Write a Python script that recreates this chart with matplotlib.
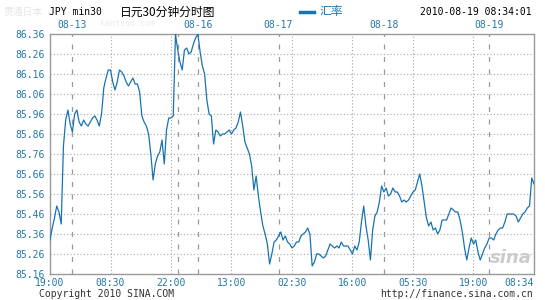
import matplotlib
matplotlib.use('Agg')
import matplotlib.pyplot as plt

# JPY 30-minute bars, one value per bar
rate = [85.33, 85.39, 85.44, 85.50, 85.47, 85.41, 85.80, 85.93, 85.98, 85.91,
        85.87, 85.96, 85.98, 85.92, 85.90, 85.93, 85.91, 85.90, 85.92, 85.94,
        85.95, 85.93, 85.90, 85.96, 86.09, 86.14, 86.18, 86.18, 86.12, 86.08,
        86.12, 86.18, 86.17, 86.15, 86.12, 86.10, 86.12, 86.14, 86.11, 86.11,
        86.07, 85.95, 85.92, 85.90, 85.86, 85.76, 85.63, 85.71, 85.75, 85.77,
        85.83, 85.71, 85.88, 85.94, 85.94, 85.95, 86.36, 86.28, 86.22, 86.18,
        86.28, 86.29, 86.26, 86.27, 86.31, 86.34, 86.36, 86.27, 86.20, 86.16,
        86.03, 85.96, 85.95, 85.81, 85.88, 85.87, 85.85, 85.86, 85.86, 85.87,
        85.88, 85.86, 85.88, 85.89, 85.92, 85.97, 85.90, 85.82, 85.79, 85.76,
        85.70, 85.58, 85.65, 85.55, 85.47, 85.40, 85.36, 85.31, 85.21, 85.26,
        85.32, 85.33, 85.35, 85.37, 85.33, 85.35, 85.32, 85.31, 85.29, 85.30,
        85.32, 85.32, 85.35, 85.36, 85.37, 85.39, 85.36, 85.20, 85.22, 85.26,
        85.26, 85.25, 85.24, 85.25, 85.28, 85.31, 85.30, 85.29, 85.30, 85.29,
        85.32, 85.30, 85.30, 85.30, 85.28, 85.26, 85.30, 85.28, 85.32, 85.42,
        85.50, 85.40, 85.33, 85.23, 85.38, 85.45, 85.47, 85.52, 85.60, 85.57,
        85.59, 85.55, 85.56, 85.59, 85.57, 85.57, 85.55, 85.52, 85.53, 85.52,
        85.53, 85.55, 85.57, 85.58, 85.62, 85.66, 85.60, 85.52, 85.44, 85.40,
        85.42, 85.38, 85.39, 85.36, 85.38, 85.43, 85.43, 85.43, 85.46, 85.49,
        85.48, 85.47, 85.47, 85.43, 85.37, 85.29, 85.23, 85.29, 85.34, 85.31,
        85.33, 85.27, 85.23, 85.26, 85.29, 85.31, 85.34, 85.34, 85.33, 85.36,
        85.38, 85.39, 85.39, 85.42, 85.46, 85.46, 85.46, 85.46, 85.45, 85.42,
        85.44, 85.46, 85.47, 85.49, 85.50, 85.64, 85.61]

tick_pos = [0, 27, 54, 81, 108, 135, 162, 189]
tick_lbl = ['19:00', '08:30', '22:00', '13:00', '02:30', '16:00', '05:30', '19:00']
end_lbl = '08:34'
day_pos = [10, 57, 66, 102, 149, 196]
day_lbl = ['08-13', '', '08-16', '08-17', '08-18', '08-19']
y_ticks = [85.16 + 0.1 * k for k in range(13)]

mono = 'DejaVu Sans Mono'
cjk = ['Noto Sans CJK SC', 'DejaVu Sans']
blue = '#1874b0'
lblc = '#2478a8'
gridc = '#a8a8a8'

W, H = 545, 300
fig = plt.figure(figsize=(W / 100, H / 100), dpi=100)
ax = fig.add_axes([50 / W, 26 / H, 484 / W, 240 / H])

n = len(rate)
x = list(range(n))
ax.plot(x, rate, color=blue, lw=0.9, zorder=3)

ax.set_xlim(0, n - 1)
ax.set_ylim(y_ticks[0], y_ticks[-1])

for y in y_ticks[1:-1]:
    ax.axhline(y, color=gridc, lw=0.8, ls=(0, (1, 2)), zorder=1)
for p in tick_pos[1:]:
    ax.axvline(p, color=gridc, lw=0.8, ls=(0, (1, 2)), zorder=1)
for p in day_pos:
    ax.axvline(p, color='#999999', lw=0.9, ls=(0, (4, 6)), zorder=1)

for s in ax.spines.values():
    s.set_color('#999999')
    s.set_linewidth(1.0)

ax.set_yticks(y_ticks)
ax.set_yticklabels(['%.2f' % v for v in y_ticks])
ax.set_xticks(tick_pos + [n - 1])
ax.set_xticklabels(tick_lbl + [end_lbl])
xl = ax.get_xticklabels()
xl[-1].set_horizontalalignment('right')
ax.tick_params(length=0, labelcolor=lblc, labelsize=7)
ax.tick_params(axis='y', pad=4)
ax.tick_params(axis='x', pad=3)
for t in ax.get_xticklabels() + ax.get_yticklabels():
    t.set_family(mono)

top = ax.secondary_xaxis('top')
top.set_xticks([p for p, l in zip(day_pos, day_lbl) if l],
               [l for l in day_lbl if l])
top.tick_params(length=0, labelcolor=lblc, labelsize=7, pad=3)
top.spines['top'].set_visible(False)
for t in top.get_xticklabels():
    t.set_family(mono)

# faint watermark, kept clear of the header text
fig.text(3 / W, 1 - 12 / H, '贯通日本', family=cjk, fontsize=7,
         color='#e6e6e6', va='center', zorder=0)
fig.text(100 / W, 1 - 23 / H, 'kantsuu.com', family=mono, fontsize=6,
         color='#ececec', va='center', zorder=0)

# header
fig.text(49 / W, 1 - 12 / H, 'JPY min30', family=mono, fontsize=7, va='center')
fig.text(120 / W, 1 - 12 / H, '日元30分钟分时图', family=cjk, fontsize=8.5, va='center')
fig.add_artist(plt.Line2D([300 / W, 314 / W], [1 - 12 / H, 1 - 12 / H],
                          color=blue, lw=2.5))
fig.text(319 / W, 1 - 12 / H, '汇率', family=cjk, fontsize=8.5, color=blue, va='center')
fig.text(532 / W, 1 - 12 / H, '2010-08-19 08:34:01', family=mono, fontsize=7,
         va='center', ha='right')

# footer
ax.text(0.995, 0.03, 'sina', transform=ax.transAxes, ha='right', va='bottom',
        fontsize=13, fontweight='bold', style='italic', color='#cccccc', zorder=2)
fig.text(39 / W, 1 - 294 / H, 'Copyright 2010 SINA.COM', family=mono, fontsize=7,
         color='#333333', va='center')
fig.text(533 / W, 1 - 294 / H, 'http://finance.sina.com.cn', family=mono, fontsize=7,
         color='#333333', va='center', ha='right')

fig.savefig('out.png', dpi=100, facecolor='white')
